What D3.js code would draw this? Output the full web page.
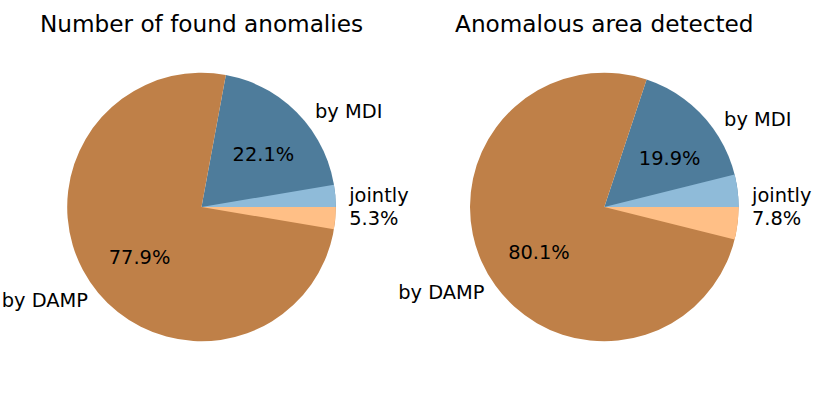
<!DOCTYPE html>
<html>
<head>
<meta charset="utf-8">
<script src="https://cdn.jsdelivr.net/npm/d3@7"></script>
<style>
  body { margin: 0; background: #fff; }
  text { font-family: "DejaVu Sans", sans-serif; fill: #000; }
</style>
</head>
<body>
<svg width="830" height="415"></svg>
<script>
// chart values
const titles = ["Number of found anomalies", "Anomalous area detected"];
const categories = ["by MDI", "by DAMP"];
const mdiShare = [22.1, 19.9];
const dampShare = [77.9, 80.1];
const jointShare = [5.3, 7.8];
const jointLabel = "jointly";

const colors = { "by MDI": "#4e7c9b", "by DAMP": "#bf8048" };
const jointColors = ["#8fbbd9", "none", "#ffbf86"];

const labelSize = 19.4;
const titleSize = 23.2;
const radius = 134.3;
const centers = d3.scaleOrdinal().domain([0, 1]).range([201.5, 604.3]);
const cy = 207;

const svg = d3.select("svg");

// matplotlib style: start at 3 o'clock, go counter-clockwise
const pie = d3.pie()
    .sort(null)
    .startAngle(Math.PI / 2)
    .endAngle(Math.PI / 2 - 2 * Math.PI);

const arc = d3.arc().innerRadius(0).outerRadius(radius);
const labelArc = d3.arc().innerRadius(radius * 1.1).outerRadius(radius * 1.1);
const pctArc = d3.arc().innerRadius(radius * 0.6).outerRadius(radius * 0.6);

titles.forEach(function(title, i) {
    const g = svg.append("g")
        .attr("transform", "translate(" + centers(i) + "," + cy + ")");

    const values = [
        { name: categories[0], value: mdiShare[i] },
        { name: categories[1], value: dampShare[i] }
    ];
    const arcs = pie.value(d => d.value)(values);

    g.selectAll(".wedge")
        .data(arcs)
        .enter()
        .append("path")
        .classed("wedge", true)
        .attr("d", arc)
        .attr("fill", d => colors[d.data.name]);

    // jointly part, half above and half below 0 degrees
    const jointArcs = pie.value(d => d)
        ([jointShare[i] / 2, 100 - jointShare[i], jointShare[i] / 2]);

    g.selectAll(".joint")
        .data(jointArcs)
        .enter()
        .append("path")
        .classed("joint", true)
        .attr("d", arc)
        .attr("fill", (d, k) => jointColors[k]);

    // category labels
    g.selectAll(".label")
        .data(arcs)
        .enter()
        .append("text")
        .classed("label", true)
        .attr("x", d => labelArc.centroid(d)[0])
        .attr("y", d => labelArc.centroid(d)[1])
        .attr("dy", (0.262 * labelSize) + "px")
        .attr("text-anchor", d => labelArc.centroid(d)[0] > 0 ? "start" : "end")
        .style("font-size", labelSize + "px")
        .text(d => d.data.name);

    // percentages
    g.selectAll(".pct")
        .data(arcs)
        .enter()
        .append("text")
        .classed("pct", true)
        .attr("x", d => pctArc.centroid(d)[0])
        .attr("y", d => pctArc.centroid(d)[1])
        .attr("dy", (0.262 * labelSize) + "px")
        .attr("text-anchor", "middle")
        .style("font-size", labelSize + "px")
        .text(d => d.data.value.toFixed(1) + "%");

    // jointly label at 0 degrees, two lines
    const jx = radius * 1.1;
    const jt = g.append("text")
        .attr("text-anchor", "start")
        .style("font-size", labelSize + "px");
    jt.append("tspan")
        .attr("x", jx)
        .attr("y", -0.273 * labelSize)
        .text(jointLabel);
    jt.append("tspan")
        .attr("x", jx)
        .attr("y", 0.927 * labelSize)
        .text(jointShare[i].toFixed(1) + "%");

    svg.append("text")
        .attr("x", centers(i))
        .attr("y", 31.7)
        .attr("text-anchor", "middle")
        .style("font-size", titleSize + "px")
        .text(title);
});
</script>
</body>
</html>
